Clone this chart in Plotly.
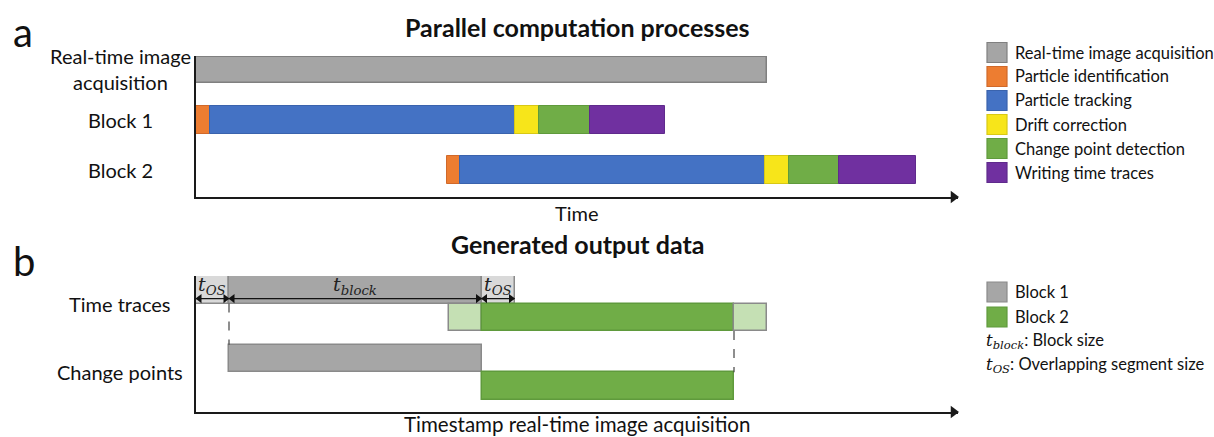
import plotly.graph_objects as go

W, H = 1214, 437
FONT = "Lato"

# ---------------- Panel a data ----------------
stage_names = ["Real-time image acquisition", "Particle identification", "Particle tracking",
               "Drift correction", "Change point detection", "Writing time traces"]
stage_colors = ["#a5a5a5", "#ed7d31", "#4472c4", "#f7e51a", "#70ad47", "#7030a0"]
stage_edges = ["#808080", "#d0692a", "#3a63ad", "#d8c815", "#5f9a3c", "#5f2a8c"]
acq_start = 0.0
acq_duration = 22.84
block_starts = [0.0, 10.04]
block1_durations = [0.54, 12.22, 0.96, 2.04, 3.0]
block2_durations = [0.52, 12.2, 0.96, 2.0, 3.08]
row_labels_a = ["Real-time image<br>acquisition", "Block 1", "Block 2"]
row_pos_a = [2, 1, 0]

# ---------------- Panel b data ----------------
t_os = 1.32
t_block = 10.1
out_blocks = ["Block 1", "Block 2"]
out_starts = [0.0, 10.1]
out_dark = ["#a6a6a6", "#70ad47"]
out_light = ["#d9d9d9", "#c5e0b4"]
out_edge = ["#8a8a8a", "#5f9a3c"]
trace_lanes = [3.5, 2.5]
cp_lanes = [1.0, 0.0]
row_labels_b = ["Time traces", "Change points"]
row_pos_b = [3.0, 0.5]

xrange = [0, 30.48]
yrange_a = [-0.54, 2.28]
yrange_b = [-0.945, 4.0]
PX_PER_UNIT = (958 - 196) / (xrange[1] - xrange[0])


def px(x):
    return x / W


def py(y):
    return 1 - y / H


fig = go.Figure()

# Panel a bars
fig.add_trace(go.Bar(orientation="h", y=[row_pos_a[0]], x=[acq_duration], base=[acq_start],
                     width=0.52, marker=dict(color=stage_colors[0], line=dict(color=stage_edges[0], width=1.5)),
                     xaxis="x", yaxis="y", showlegend=False, hoverinfo="skip"))
for bstart, durs, row in zip(block_starts, [block1_durations, block2_durations], row_pos_a[1:]):
    pos = bstart
    for i, d in enumerate(durs):
        fig.add_trace(go.Bar(orientation="h", y=[row], x=[d], base=[pos], width=0.56,
                             marker=dict(color=stage_colors[i + 1],
                                         line=dict(color=stage_edges[i + 1], width=1)),
                             xaxis="x", yaxis="y", showlegend=False, hoverinfo="skip"))
        pos += d

# Panel b bars
for k in range(2):
    s = out_starts[k]
    segs = [(s, t_os, out_light[k], "#8a8a8a"),
            (s + t_os, t_block, out_dark[k], out_edge[k]),
            (s + t_os + t_block, t_os, out_light[k], "#8a8a8a")]
    for b0, d, c, e in segs:
        fig.add_trace(go.Bar(orientation="h", y=[trace_lanes[k]], x=[d], base=[b0], width=1.0,
                             marker=dict(color=c, line=dict(color=e, width=1.5)),
                             xaxis="x2", yaxis="y2", showlegend=False, hoverinfo="skip"))
    fig.add_trace(go.Bar(orientation="h", y=[cp_lanes[k]], x=[t_block], base=[s + t_os], width=1.0,
                         marker=dict(color=out_dark[k], line=dict(color=out_edge[k], width=1.5)),
                         xaxis="x2", yaxis="y2", showlegend=False, hoverinfo="skip"))

# axis arrowheads (triangle markers at the end of each time axis)
head_off = 4.5 / PX_PER_UNIT
for xa, ya, yr in [("x", "y", yrange_a), ("x2", "y2", yrange_b)]:
    fig.add_trace(go.Scatter(x=[xrange[1] - head_off], y=[yr[0]], mode="markers",
                             marker=dict(symbol="triangle-right", size=11, color="#1a1a1a"),
                             cliponaxis=False, xaxis=xa, yaxis=ya, showlegend=False, hoverinfo="skip"))

# dimension arrows in panel b
arrow_y = 3.18
dim_off = 3.5 / PX_PER_UNIT
dims = [(0.0, t_os), (t_os, t_os + t_block), (t_os + t_block, 2 * t_os + t_block)]
for a0, a1 in dims:
    fig.add_trace(go.Scatter(x=[a0, a1], y=[arrow_y, arrow_y], mode="lines",
                             line=dict(color="#111111", width=1.3),
                             xaxis="x2", yaxis="y2", showlegend=False, hoverinfo="skip"))
    fig.add_trace(go.Scatter(x=[a0 + dim_off, a1 - dim_off], y=[arrow_y, arrow_y], mode="markers",
                             marker=dict(symbol=["triangle-left", "triangle-right"], size=8,
                                         color="#111111"),
                             cliponaxis=False, xaxis="x2", yaxis="y2", showlegend=False,
                             hoverinfo="skip"))

axis_common = dict(showgrid=False, zeroline=False, showticklabels=False, ticks="",
                   showline=True, linecolor="#1a1a1a", linewidth=2, fixedrange=True)
fig.update_layout(
    width=W, height=H, margin=dict(l=0, r=0, t=0, b=0),
    paper_bgcolor="white", plot_bgcolor="white", barmode="overlay", bargap=0,
    font=dict(family=FONT, color="#111111"),
    xaxis=dict(domain=[px(196), px(958)], range=xrange, anchor="y", **axis_common),
    yaxis=dict(domain=[py(197), py(56)], range=yrange_a, anchor="x", **axis_common),
    xaxis2=dict(domain=[px(196), px(958)], range=xrange, anchor="y2", **axis_common),
    yaxis2=dict(domain=[py(412), py(276)], range=yrange_b, anchor="x2", **axis_common),
)

ann = []
# panel letters & titles
ann.append(dict(x=px(11), y=py(32), xref="paper", yref="paper", text="a", showarrow=False,
                xanchor="left", yanchor="middle", font=dict(size=40, family=FONT)))
ann.append(dict(x=px(11), y=py(261), xref="paper", yref="paper", text="b", showarrow=False,
                xanchor="left", yanchor="middle", font=dict(size=40, family=FONT)))
ann.append(dict(x=0.5, y=py(27), xref="x domain", yref="paper",
                text="<b>Parallel computation processes</b>", showarrow=False,
                xanchor="center", yanchor="middle", font=dict(size=25, family=FONT)))
ann.append(dict(x=0.5, y=py(244), xref="x domain", yref="paper",
                text="<b>Generated output data</b>", showarrow=False,
                xanchor="center", yanchor="middle", font=dict(size=25, family=FONT)))
ann.append(dict(x=0.5, y=py(213), xref="x domain", yref="paper", text="Time", showarrow=False,
                xanchor="center", yanchor="middle", font=dict(size=20, family=FONT)))
ann.append(dict(x=0.5, y=py(424), xref="x domain", yref="paper",
                text="Timestamp real-time image acquisition", showarrow=False,
                xanchor="center", yanchor="middle", font=dict(size=20.5, family=FONT)))

# row labels
for lab, pos in zip(row_labels_a, row_pos_a):
    ann.append(dict(x=px(120), y=pos + (0.03 if "<br>" in lab else 0), xref="paper", yref="y",
                    text=lab, showarrow=False, xanchor="center", yanchor="middle",
                    font=dict(size=20, family=FONT)))
for lab, pos in zip(row_labels_b, row_pos_b):
    ann.append(dict(x=px(120), y=pos, xref="paper", yref="y2", text=lab, showarrow=False,
                    xanchor="center", yanchor="middle", font=dict(size=20, family=FONT)))

# dimension labels
tos_txt = "<i>t</i><sub><i>OS</i></sub>"
tblk_txt = "<i>t</i><sub><i>block</i></sub>"
for (a0, a1), txt in zip(dims, [tos_txt, tblk_txt, tos_txt]):
    ann.append(dict(x=(a0 + a1) / 2, y=3.64, xref="x2", yref="y2", text=txt, showarrow=False,
                    xanchor="center", yanchor="middle",
                    font=dict(size=19, family="DejaVu Serif", color="#222222")))

fig.update_layout(annotations=ann)

# dashed guide lines
fig.add_shape(type="line", xref="x2", yref="y2", x0=t_os, x1=t_os, y0=3.0, y1=1.5,
              line=dict(color="#444444", width=1.2, dash="dash"))
fig.add_shape(type="line", xref="x2", yref="y2", x0=out_starts[1] + t_os + t_block,
              x1=out_starts[1] + t_os + t_block, y0=2.0, y1=0.5,
              line=dict(color="#444444", width=1.2, dash="dash"))

LEG = 16.5
# legend a
for i, (nm, c, e) in enumerate(zip(stage_names, stage_colors, stage_edges)):
    cy = 52.5 + 24 * i
    fig.add_shape(type="rect", xref="paper", yref="paper", x0=px(987), x1=px(1007),
                  y0=py(cy + 10), y1=py(cy - 10), fillcolor=c, line=dict(color=e, width=1.2))
    fig.add_annotation(x=px(1013), y=py(cy), xref="paper", yref="paper", text=nm, showarrow=False,
                       xanchor="left", yanchor="middle", font=dict(size=LEG, family=FONT))

# legend b
for i, (nm, c, e) in enumerate(zip(out_blocks, out_dark, ["#8a8a8a", "#5f9a3c"])):
    cy = 292 + 25 * i
    fig.add_shape(type="rect", xref="paper", yref="paper", x0=px(987), x1=px(1007),
                  y0=py(cy + 10), y1=py(cy - 10), fillcolor=c, line=dict(color=e, width=1.2))
    fig.add_annotation(x=px(1013), y=py(cy), xref="paper", yref="paper", text=nm, showarrow=False,
                       xanchor="left", yanchor="middle", font=dict(size=LEG, family=FONT))
fig.add_annotation(x=px(984), y=py(341), xref="paper", yref="paper",
                   text="<span style='font-family:DejaVu Serif'><i>t</i><sub><i>block</i></sub></span>: Block size",
                   showarrow=False, xanchor="left", yanchor="middle", font=dict(size=LEG, family=FONT))
fig.add_annotation(x=px(984), y=py(365), xref="paper", yref="paper",
                   text="<span style='font-family:DejaVu Serif'><i>t</i><sub><i>OS</i></sub></span>: Overlapping segment size",
                   showarrow=False, xanchor="left", yanchor="middle", font=dict(size=LEG, family=FONT))

fig.write_html("out.html")
